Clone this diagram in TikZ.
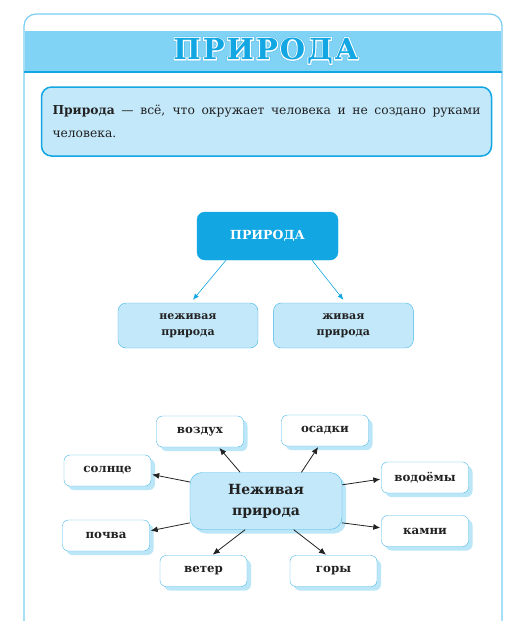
\documentclass[tikz,border=0pt]{standalone}
\usepackage{fontspec}
\setmainfont{DejaVu Serif}
\usetikzlibrary{positioning, arrows.meta, shadows}

\definecolor{frameline}{HTML}{79CDF0}
\definecolor{bandfill}{HTML}{80D3F5}
\definecolor{deepblue}{HTML}{12A6E2}
\definecolor{paleblue}{HTML}{C2E8FA}
\definecolor{boxline}{HTML}{45B6E8}
\definecolor{shade}{HTML}{B4E3F7}
\definecolor{ink}{HTML}{222222}

% outlined title lettering
\newcommand{\outlined}[1]{%
  \rlap{\special{pdf:literal direct 1 Tr 3.2 w 0.35 0.75 0.93 RG}#1\special{pdf:literal direct 0 Tr}}%
  \rlap{\special{pdf:literal direct 1 Tr 2.2 w 1 1 1 RG}#1\special{pdf:literal direct 0 Tr}}%
  #1}

\begin{document}
\begin{tikzpicture}[
  x=1pt, y=-1pt,
  box/.style={rectangle, draw, rounded corners=8pt, align=center, inner sep=2pt},
  topbox/.style={box, draw=deepblue, fill=deepblue, text=white,
                 minimum width=141pt, minimum height=48pt,
                 font=\fontsize{12.5}{15}\selectfont\bfseries},
  kind/.style={box, draw=boxline, fill=paleblue, text=ink,
               minimum width=140pt, minimum height=45pt,
               font=\fontsize{11}{16}\selectfont\bfseries},
  hub/.style={box, rounded corners=12pt, draw=boxline, fill=paleblue, text=ink,
              minimum width=152pt, minimum height=57pt,
              font=\fontsize{14}{21}\selectfont\bfseries,
              drop shadow={shadow xshift=4pt, shadow yshift=-4pt, fill=shade, draw=none, opacity=0.9}},
  sat/.style={box, rounded corners=6pt, draw=boxline, fill=white, text=ink,
              minimum width=87pt, minimum height=31pt,
              font=\fontsize{11.8}{14}\selectfont\bfseries,
              drop shadow={shadow xshift=4pt, shadow yshift=-4pt, fill=shade, draw=none, opacity=0.9}},
  arr/.style={-{Latex[length=7pt,width=6pt]}, thick, draw=ink, shorten >=1pt},
  bluearr/.style={-{Latex[length=6pt,width=5pt]}, semithick, draw=deepblue}
]
  \useasboundingbox (0,0) rectangle (525,621);

  % Frame and title band
  \draw[frameline, line width=1.2pt, rounded corners=12pt]
    (24,650) -- (24,14) -- (502,14) -- (502,650);
  \fill[bandfill] (24.6,31) rectangle (501.4,72);
  \draw[deepblue, line width=1.5pt] (24,72) -- (502,72);
  \node[font=\fontsize{29}{32}\selectfont\bfseries, text=deepblue] (title) at (266,51)
    {\addfontfeature{LetterSpace=7}\outlined{ПРИРОДА}};

  % Definition
  \node[draw=deepblue, line width=1.5pt, fill=paleblue, rounded corners=10pt,
        text width=428pt, inner xsep=11pt, minimum height=69pt, align=justify,
        font=\fontsize{12.3}{23}\selectfont, text=ink] (defn) at (266.5,121.5)
    {\textbf{Природа} — всё, что окружает человека и не создано руками\linebreak человека.};

  % Two kinds of nature
  \node[topbox] (pr)  at (267.5,236) {ПРИРОДА};
  \node[kind]   (nzh) at (188,325.5) {неживая\\природа};
  \node[kind, right=15pt of nzh] (zh) {живая\\природа};

  \draw[bluearr] ([xshift=-41.5pt]pr.south) -- ([xshift=5pt,yshift=3pt]nzh.north);
  \draw[bluearr] ([xshift=44.5pt]pr.south)  -- ([yshift=3pt]zh.north);

  % Non-living nature
  \node[hub] (nz) at (266,501) {Неживая\\природа};
  \node[sat] (vozduh)  at (200,431.5) {воздух};
  \node[sat] (osadki)  at (325,430.5) {осадки};
  \node[sat] (solnce)  at (107.5,470.5) {солнце};
  \node[sat] (vodoemy) at (425,477.5) {водоёмы};
  \node[sat] (pochva)  at (106,535.5) {почва};
  \node[sat] (kamni)   at (425,531) {камни};
  \node[sat] (veter)   at (203.5,571) {ветер};
  \node[sat] (gory)    at (333.5,571) {горы};

  \draw[arr] (nz.132) -- (vozduh.320);
  \draw[arr] (nz.39)  -- (osadki.248);
  \draw[arr] (nz.166) -- (solnce.355);
  \draw[arr] (nz.12)  -- (vodoemy.182);
  \draw[arr] (nz.196) -- (pochva.6);
  \draw[arr] (nz.344) -- (kamni.176);
  \draw[arr] (nz.234) -- (veter.62);
  \draw[arr] (nz.314) -- (gory.113);
\end{tikzpicture}
\end{document}
